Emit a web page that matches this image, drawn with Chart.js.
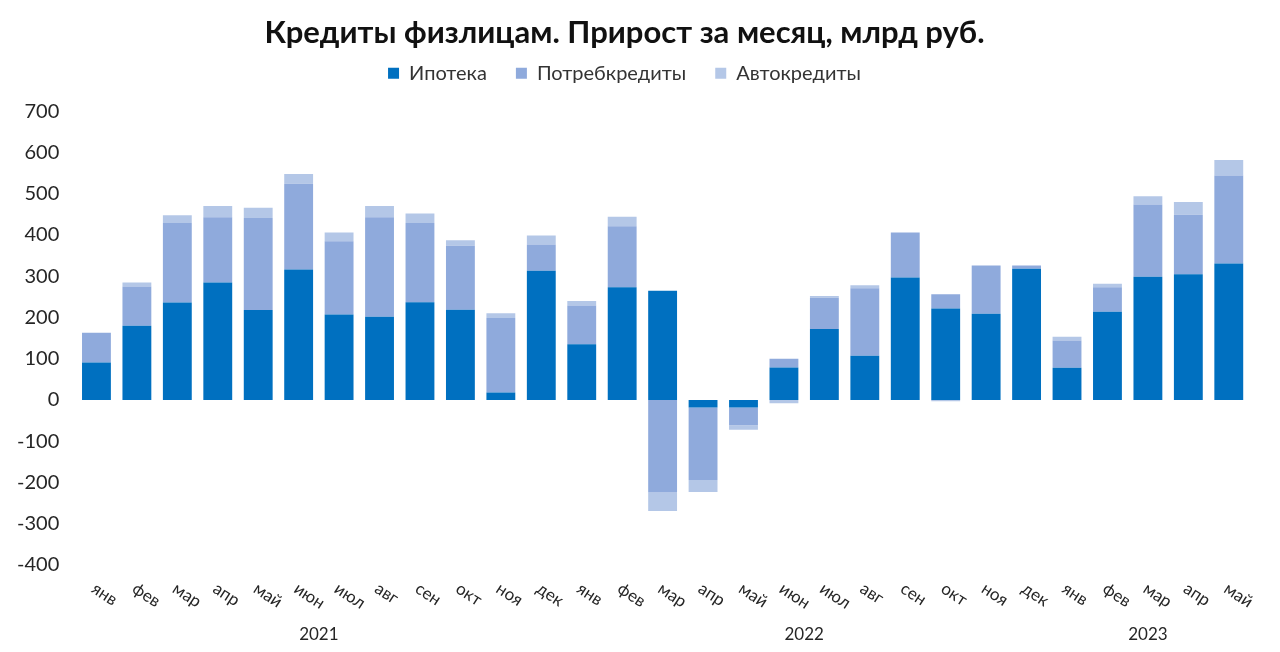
<!DOCTYPE html>
<html lang="ru">
<head>
<meta charset="utf-8">
<title>Кредиты физлицам</title>
<script src="https://cdn.jsdelivr.net/npm/chart.js@4/dist/chart.umd.min.js"></script>
<style>
  html, body { margin: 0; padding: 0; background: #fff; }
  #wrap { width: 1280px; height: 652px; position: relative; }
</style>
</head>
<body>
<div id="wrap"><canvas id="chartLoans"></canvas></div>
<script>
// Months (Jan 2021 - May 2023)
const months = ['янв','фев','мар','апр','май','июн','июл','авг','сен','окт','ноя','дек',
                'янв','фев','мар','апр','май','июн','июл','авг','сен','окт','ноя','дек',
                'янв','фев','мар','апр','май'];
const years = ['2021', '2022', '2023'];
const monthsPerYear = [12, 12, 5];

// Monthly growth, bn rub
const mortgage = [91, 180, 236, 285, 218, 316, 207, 202, 237, 219, 18, 313,
                  135, 273, 265, -18, -18, 79, 172, 107, 297, 222, 209, 318,
                  78, 214, 299, 305, 331];
const consumer = [72, 95, 193, 158, 223, 208, 178, 241, 192, 155, 181, 64,
                  94, 148, -224, -176, -43, 21, 76, 164, 109, 34, 117, 8,
                  66, 59, 175, 144, 213];
const auto = [0, 10, 19, 27, 25, 24, 21, 27, 23, 13, 11, 22,
              11, 23, -45, -29, -11, -8, 4, 7, 0, -3, 0, 0,
              9, 9, 20, 31, 38];

const yTicks = [700, 600, 500, 400, 300, 200, 100, 0, -100, -200, -300, -400];

const FONT = 'Lato, "Noto Sans", sans-serif';
const TEXT = '#262626';

// Draw rotated month labels and year labels under the axis
const monthLabels = {
  id: 'monthLabels',
  afterDraw(chart) {
    const { ctx, scales: { x } } = chart;
    ctx.save();
    ctx.fillStyle = TEXT;
    ctx.font = `17px ${FONT}`;
    ctx.textAlign = 'left';
    ctx.textBaseline = 'middle';
    months.forEach((m, i) => {
      const px = x.getPixelForTick(i);
      ctx.save();
      ctx.translate(px - 3, 587);
      ctx.rotate(33 * Math.PI / 180);
      ctx.fillText(m, 0, 0);
      ctx.restore();
    });
    ctx.textAlign = 'center';
    let start = 0;
    years.forEach((y, k) => {
      const end = start + monthsPerYear[k] - 1;
      const cx = (x.getPixelForTick(start) + x.getPixelForTick(end)) / 2;
      ctx.fillText(y, cx, 635);
      start = end + 1;
    });
    ctx.restore();
  }
};

function makeSet(label, data, color) {
  return {
    label,
    data,
    backgroundColor: color,
    borderWidth: 0,
    barPercentage: 0.86,
    categoryPercentage: 0.83,
    stack: 's'
  };
}

const ctx = document.getElementById('chartLoans').getContext('2d');
new Chart(ctx, {
  type: 'bar',
  data: {
    labels: months,
    datasets: [
      makeSet('Ипотека', mortgage, '#0070C0'),
      makeSet('Потребкредиты', consumer, '#8FAADC'),
      makeSet('Автокредиты', auto, '#B4C7E7')
    ]
  },
  options: {
    responsive: true,
    maintainAspectRatio: false,
    animation: false,
    layout: { padding: { left: 0, right: 31, top: 0, bottom: 79 } },
    plugins: {
      title: {
        display: true,
        text: 'Кредиты физлицам. Прирост за месяц, млрд руб.',
        color: '#111',
        font: { family: FONT, size: 31, weight: 'bold' },
        padding: { top: 14, bottom: -17 }
      },
      // empty spacer between legend and plot
      subtitle: {
        display: true,
        text: '',
        weight: 500,
        font: { size: 10 },
        padding: { top: 6, bottom: 0 }
      },
      legend: {
        display: true,
        labels: {
          color: '#333',
          font: { family: FONT, size: 20 },
          boxWidth: 11,
          boxHeight: 11,
          padding: 29
        }
      },
      tooltip: { enabled: false }
    },
    scales: {
      x: {
        stacked: true,
        grid: { display: false },
        border: { display: false },
        ticks: { display: false }
      },
      y: {
        stacked: true,
        min: -400,
        max: 700,
        afterBuildTicks(axis) {
          axis.ticks = yTicks.map(v => ({ value: v }));
        },
        grid: { display: false, drawTicks: false },
        border: { display: false },
        ticks: {
          color: TEXT,
          font: { family: FONT, size: 20 },
          padding: 17
        }
      }
    }
  },
  plugins: [monthLabels]
});
</script>
</body>
</html>
